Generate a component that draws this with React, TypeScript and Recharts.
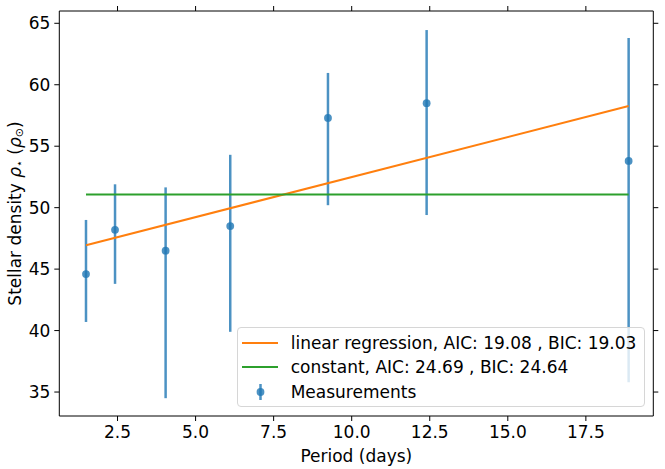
import React from "react";
import { ComposedChart, Scatter, ErrorBar, XAxis, YAxis, Legend } from "recharts";

const periods = [1.49, 2.42, 4.04, 6.11, 9.24, 12.4, 18.87];
const density = [44.6, 48.2, 46.5, 48.5, 57.3, 58.5, 53.8];
const densityLow = [40.7, 43.8, 34.5, 39.9, 50.2, 49.4, 35.8];
const densityHigh = [49.0, 51.9, 51.65, 54.3, 60.96, 64.45, 63.8];

// fitted models, end points only
const fitPeriods = [1.49, 18.87];
const linearFit = [46.94, 58.27];
const constantFit = [51.07, 51.07];

const xTicks = [2.5, 5, 7.5, 10, 12.5, 15, 17.5];
const yTicks = [35, 40, 45, 50, 55, 60, 65];

const legendItems = [
  { label: "linear regression, AIC: 19.08 , BIC: 19.03", color: "#ff7f0e", kind: "line" },
  { label: "constant, AIC: 24.69 , BIC: 24.64", color: "#2ca02c", kind: "line" },
  { label: "Measurements", color: "#1f77b4", kind: "errorbar" },
];

const measurements = periods.map((x, i) => ({
  x,
  y: density[i],
  err: [density[i] - densityLow[i], densityHigh[i] - density[i]],
}));
const linearData = fitPeriods.map((x, i) => ({ x, y: linearFit[i] }));
const constantData = fitPeriods.map((x, i) => ({ x, y: constantFit[i] }));

const FONT = "DejaVu Sans";
const BLUE = "rgba(31,119,180,0.8)";
const tickStyle = { fill: "#000", fontSize: 17, fontFamily: FONT };

const Dot = (props: any) => <circle cx={props.cx} cy={props.cy} r={3.9} fill={BLUE} />;
const NoShape = () => <g />;

const YLabel = (props: any) => {
  const vb = props.viewBox || { x: 0, y: 0, width: 0, height: 0 };
  const cx = vb.x + 15;
  const cy = vb.y + vb.height / 2;
  return (
    <text
      x={cx}
      y={cy}
      transform={`rotate(-90, ${cx}, ${cy})`}
      textAnchor="middle"
      dominantBaseline="central"
      fontSize={17}
      fontFamily={FONT}
      fill="#000"
    >
      Stellar density <tspan fontStyle="italic">ρ</tspan>
      <tspan fontSize={11} dy={4}>⋆</tspan>
      <tspan dy={-4}> (</tspan>
      <tspan fontStyle="italic">ρ</tspan>
      <tspan fontSize={11} dy={4}>⊙</tspan>
      <tspan dy={-4}>)</tspan>
    </text>
  );
};

const LegendBox = () => (
  <div
    style={{
      boxSizing: "border-box",
      width: 408,
      height: 80,
      border: "1px solid #d6d6d6",
      borderRadius: 4,
      background: "rgba(255,255,255,0.8)",
      paddingTop: 2,
      fontFamily: FONT,
      fontSize: 17,
      color: "#000",
    }}
  >
    {legendItems.map((item) => (
      <div key={item.label} style={{ display: "flex", alignItems: "center", height: 24.5 }}>
        <svg width={53} height={24} style={{ flex: "none" }}>
          {item.kind === "line" ? (
            <line x1={4} x2={40} y1={12} y2={12} stroke={item.color} strokeWidth={2} />
          ) : (
            <g>
              <line x1={22.5} x2={22.5} y1={4} y2={20} stroke={BLUE} strokeWidth={2.5} />
              <circle cx={22.5} cy={12} r={3.9} fill={BLUE} />
            </g>
          )}
        </svg>
        <span style={{ whiteSpace: "nowrap" }}>{item.label}</span>
      </div>
    ))}
  </div>
);

const App: React.FC = () => {
  return (
    <div style={{ width: 665, height: 469, position: "relative", background: "#fff" }}>
      <style>{`body { margin: 0; }`}</style>
      <ComposedChart width={665} height={469} margin={{ top: 10, right: 10.7, bottom: 0, left: 0 }}>
        <XAxis
          xAxisId="bottom"
          type="number"
          dataKey="x"
          domain={[0.635, 19.66]}
          ticks={xTicks}
          tickFormatter={(v: number) => v.toFixed(1)}
          height={53}
          tickSize={5}
          tickMargin={5}
          axisLine={{ stroke: "#000" }}
          tickLine={{ stroke: "#000" }}
          tick={tickStyle}
          allowDataOverflow
          label={{ value: "Period (days)", position: "insideBottom", offset: 7, fill: "#000", fontSize: 17, fontFamily: FONT }}
        />
        <XAxis
          xAxisId="top"
          orientation="top"
          type="number"
          dataKey="x"
          domain={[0.635, 19.66]}
          ticks={xTicks}
          tickFormatter={() => ""}
          height={1}
          tickSize={5}
          axisLine={{ stroke: "#000" }}
          tickLine={{ stroke: "#000" }}
          allowDataOverflow
        />
        <YAxis
          yAxisId="left"
          type="number"
          dataKey="y"
          domain={[33.05, 66]}
          ticks={yTicks}
          width={59.3}
          tickSize={5}
          tickMargin={4}
          axisLine={{ stroke: "#000" }}
          tickLine={{ stroke: "#000" }}
          tick={tickStyle}
          allowDataOverflow
          label={<YLabel />}
        />
        <YAxis
          yAxisId="right"
          orientation="right"
          type="number"
          dataKey="y"
          domain={[33.05, 66]}
          ticks={yTicks}
          tickFormatter={() => ""}
          width={1}
          tickSize={5}
          axisLine={{ stroke: "#000" }}
          tickLine={{ stroke: "#000" }}
          allowDataOverflow
        />
        <Scatter
          data={measurements}
          xAxisId="bottom"
          yAxisId="left"
          dataKey="y"
          shape={Dot}
          isAnimationActive={false}
        >
          <ErrorBar dataKey="err" direction="y" width={0} stroke={BLUE} strokeWidth={2.5} isAnimationActive={false} />
        </Scatter>
        <Scatter
          data={linearData}
          xAxisId="bottom"
          yAxisId="left"
          dataKey="y"
          shape={NoShape}
          line={{ stroke: "#ff7f0e", strokeWidth: 2 }}
          isAnimationActive={false}
        />
        <Scatter
          data={constantData}
          xAxisId="bottom"
          yAxisId="left"
          dataKey="y"
          shape={NoShape}
          line={{ stroke: "#2ca02c", strokeWidth: 2 }}
          isAnimationActive={false}
        />
        {/* invisible series so the mirrored frame axes are drawn */}
        <Scatter
          data={measurements}
          xAxisId="top"
          yAxisId="right"
          dataKey="y"
          shape={NoShape}
          legendType="none"
          isAnimationActive={false}
        />
        <Legend
          layout="horizontal"
          verticalAlign="middle"
          align="center"
          content={<LegendBox />}
          wrapperStyle={{ position: "absolute", left: 236.7, top: 327.3, width: 408, height: 80 }}
        />
      </ComposedChart>
    </div>
  );
};

export default App;
